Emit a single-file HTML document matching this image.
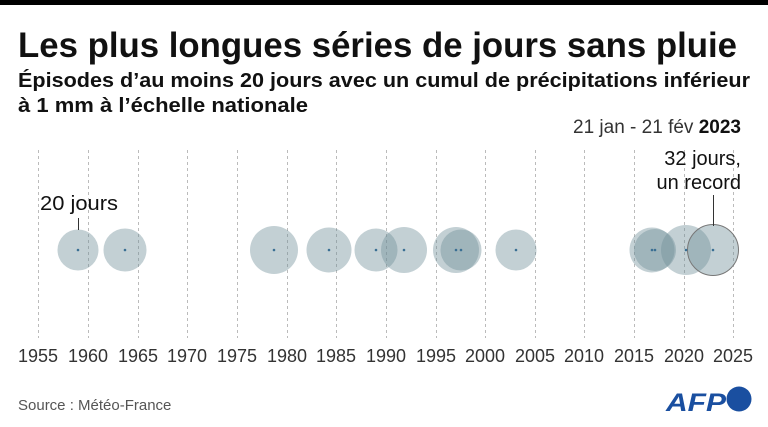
<!DOCTYPE html>
<html><head><meta charset="utf-8"><style>
body{margin:0;background:#fff;width:768px;height:427px;overflow:hidden}
svg{display:block;font-family:"Liberation Sans",sans-serif}
</style></head><body>
<svg width="768" height="427" viewBox="0 0 768 427">
<rect x="0" y="0" width="768" height="5" fill="#000"/>
<text x="18" y="57" font-size="35" font-weight="bold" fill="#111" textLength="719" lengthAdjust="spacingAndGlyphs">Les plus longues séries de jours sans pluie</text>
<text x="18" y="87" font-size="20" font-weight="bold" fill="#111" textLength="732" lengthAdjust="spacingAndGlyphs">Épisodes d’au moins 20 jours avec un cumul de précipitations inférieur</text>
<text x="18" y="112" font-size="20" font-weight="bold" fill="#111" textLength="290" lengthAdjust="spacingAndGlyphs">à 1 mm à l’échelle nationale</text>
<text x="741" y="133" font-size="19" fill="#333" text-anchor="end">21 jan - 21 fév <tspan fill="#111" font-weight="bold">2023</tspan></text>
<g stroke="#bbb" stroke-dasharray="3,3" stroke-width="1">
<line x1="38.5" y1="150" x2="38.5" y2="338"/><line x1="88.5" y1="150" x2="88.5" y2="338"/><line x1="138.5" y1="150" x2="138.5" y2="338"/><line x1="187.5" y1="150" x2="187.5" y2="338"/><line x1="237.5" y1="150" x2="237.5" y2="338"/><line x1="287.5" y1="150" x2="287.5" y2="338"/><line x1="336.5" y1="150" x2="336.5" y2="338"/><line x1="386.5" y1="150" x2="386.5" y2="338"/><line x1="436.5" y1="150" x2="436.5" y2="338"/><line x1="485.5" y1="150" x2="485.5" y2="338"/><line x1="535.5" y1="150" x2="535.5" y2="338"/><line x1="584.5" y1="150" x2="584.5" y2="338"/><line x1="634.5" y1="150" x2="634.5" y2="338"/><line x1="684.5" y1="150" x2="684.5" y2="338"/><line x1="733.5" y1="150" x2="733.5" y2="338"/>
</g>
<g fill="#6f8f99" fill-opacity="0.42">
<circle cx="78" cy="250" r="20.5"/><circle cx="125" cy="250" r="21.5"/><circle cx="274" cy="250" r="24"/><circle cx="329" cy="250" r="22.5"/><circle cx="376" cy="250" r="21.5"/><circle cx="404" cy="250" r="23"/><circle cx="456" cy="250" r="23"/><circle cx="461" cy="250" r="20.5"/><circle cx="516" cy="250" r="20.5"/><circle cx="652" cy="250" r="22.5"/><circle cx="655" cy="250" r="21"/><circle cx="686" cy="250" r="25"/>
<circle cx="713" cy="250" r="25.5" stroke="#777" stroke-opacity="1" stroke-width="1"/>
</g>
<g fill="#3a6f93">
<circle cx="78" cy="250" r="1.3"/><circle cx="125" cy="250" r="1.3"/><circle cx="274" cy="250" r="1.3"/><circle cx="329" cy="250" r="1.3"/><circle cx="376" cy="250" r="1.3"/><circle cx="404" cy="250" r="1.3"/><circle cx="456" cy="250" r="1.3"/><circle cx="461" cy="250" r="1.3"/><circle cx="516" cy="250" r="1.3"/><circle cx="652" cy="250" r="1.3"/><circle cx="655" cy="250" r="1.3"/><circle cx="686" cy="250" r="1.3"/><circle cx="713" cy="250" r="1.3"/>
</g>
<line x1="78.5" y1="218" x2="78.5" y2="230" stroke="#333"/>
<line x1="713.5" y1="195" x2="713.5" y2="226" stroke="#333"/>
<text x="40" y="210" font-size="20" fill="#111" textLength="78" lengthAdjust="spacingAndGlyphs">20 jours</text>
<text x="741" y="165" font-size="20" fill="#111" text-anchor="end">32 jours,</text>
<text x="741" y="189" font-size="20" fill="#111" text-anchor="end">un record</text>
<g font-size="18" fill="#333" text-anchor="middle">
<text x="38" y="362">1955</text><text x="88" y="362">1960</text><text x="138" y="362">1965</text><text x="187" y="362">1970</text><text x="237" y="362">1975</text><text x="287" y="362">1980</text><text x="336" y="362">1985</text><text x="386" y="362">1990</text><text x="436" y="362">1995</text><text x="485" y="362">2000</text><text x="535" y="362">2005</text><text x="584" y="362">2010</text><text x="634" y="362">2015</text><text x="684" y="362">2020</text><text x="733" y="362">2025</text>
</g>
<text x="18" y="410" font-size="15" fill="#555">Source : Météo-France</text>
<text x="666" y="411" font-size="25" font-weight="bold" font-style="italic" fill="#1a4fa0" textLength="60" lengthAdjust="spacingAndGlyphs">AFP</text>
<circle cx="739" cy="399" r="12.5" fill="#1a4fa0"/>
</svg>
</body></html>
